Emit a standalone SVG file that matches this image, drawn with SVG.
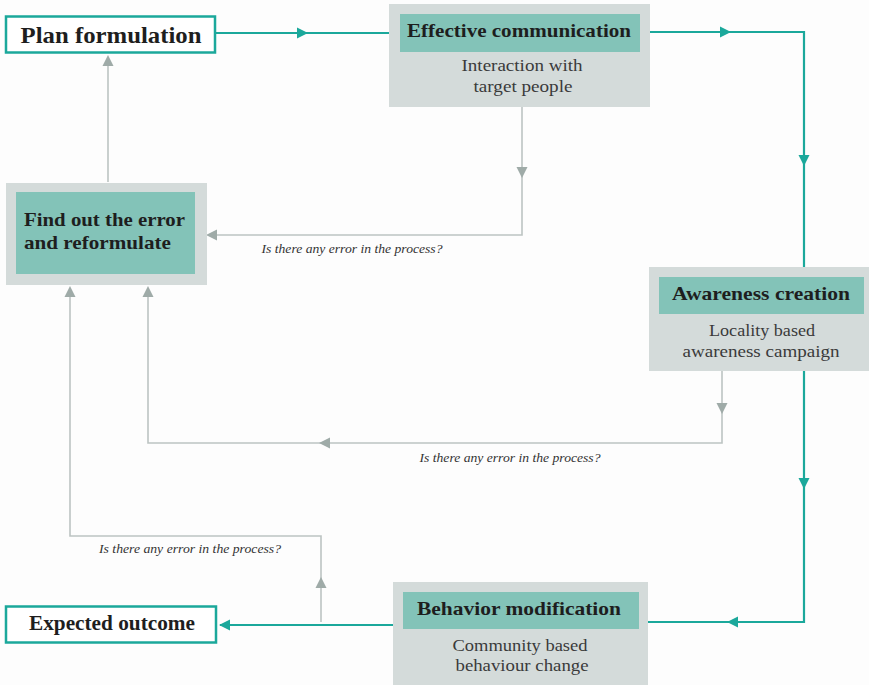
<svg xmlns="http://www.w3.org/2000/svg" width="869" height="685" viewBox="0 0 869 685">
<style>
.bg{fill:#fdfdfd}
.outer{fill:#d4dbda}
.inner{fill:#83c3b8}
.plain{fill:#ffffff;stroke:#1ba89b;stroke-width:2.5}
.t{font-family:"Liberation Serif","DejaVu Serif",serif;fill:#1e1e1e;text-anchor:middle}
.b{font-weight:bold}
.s{fill:#3a3a3a;font-size:16px}
.lbl{font-family:"Liberation Serif","DejaVu Serif",serif;font-style:italic;font-size:12.5px;fill:#333;text-anchor:middle}
.teal{fill:none;stroke:#1ba89b;stroke-width:2.2}
.gray{fill:none;stroke:#bcc4c2;stroke-width:1.6}
.ta{fill:#1ba89b}
.ga{fill:#9faba8}
</style>
<defs>
<path id="ah" d="M0,0 L-11,-5.5 L-11,5.5 Z"/>
</defs>
<rect class="bg" x="0" y="0" width="869" height="685"/>

<g id="connectors">
<path class="teal" d="M216,33 H390"/>
<path class="teal" d="M650,32 H804 V267"/>
<path class="teal" d="M804,371 V622 H648"/>
<path class="teal" d="M393,625 H220"/>
<use href="#ah" class="ta" transform="translate(308,33)"/>
<use href="#ah" class="ta" transform="translate(731,32)"/>
<use href="#ah" class="ta" transform="translate(804,166) rotate(90)"/>
<use href="#ah" class="ta" transform="translate(804,489) rotate(90)"/>
<use href="#ah" class="ta" transform="translate(727,622) rotate(180)"/>
<use href="#ah" class="ta" transform="translate(219,625) rotate(180)"/>

<path class="gray" d="M108,182 V60"/>
<path class="gray" d="M522,107 V235 H212"/>
<path class="gray" d="M722,371 V443 H148 V292"/>
<path class="gray" d="M321,622 V536 H70 V292"/>
<use href="#ah" class="ga" transform="translate(108,55) rotate(-90)"/>
<use href="#ah" class="ga" transform="translate(522,178) rotate(90)"/>
<use href="#ah" class="ga" transform="translate(206,235) rotate(180)"/>
<use href="#ah" class="ga" transform="translate(722,414) rotate(90)"/>
<use href="#ah" class="ga" transform="translate(319,443) rotate(180)"/>
<use href="#ah" class="ga" transform="translate(148,286) rotate(-90)"/>
<use href="#ah" class="ga" transform="translate(321,577) rotate(-90)"/>
<use href="#ah" class="ga" transform="translate(70,286) rotate(-90)"/>

<text class="lbl" x="352" y="253" textLength="181" lengthAdjust="spacingAndGlyphs">Is there any error in the process?</text>
<text class="lbl" x="510" y="462" textLength="181" lengthAdjust="spacingAndGlyphs">Is there any error in the process?</text>
<text class="lbl" x="190" y="553" textLength="182" lengthAdjust="spacingAndGlyphs">Is there any error in the process?</text>
</g>

<g id="plan-formulation">
<rect class="plain" x="6" y="16.5" width="209" height="36"/>
<text class="t b" x="111" y="43" font-size="23" textLength="181" lengthAdjust="spacingAndGlyphs">Plan formulation</text>
</g>

<g id="effective-communication">
<rect class="outer" x="389" y="4" width="261" height="103"/>
<rect class="inner" x="400" y="14" width="240" height="38"/>
<text class="t b" x="519" y="37" font-size="19" textLength="224" lengthAdjust="spacingAndGlyphs">Effective communication</text>
<text class="t s" x="522" y="71" textLength="121" lengthAdjust="spacingAndGlyphs">Interaction with</text>
<text class="t s" x="523" y="92" textLength="99" lengthAdjust="spacingAndGlyphs">target people</text>
</g>

<g id="find-error">
<rect class="outer" x="6" y="183" width="201" height="102"/>
<rect class="inner" x="16" y="192" width="179" height="82"/>
<text class="t b" x="24" y="226" font-size="19" text-anchor="start" style="text-anchor:start" textLength="161" lengthAdjust="spacingAndGlyphs">Find out the error</text>
<text class="t b" x="24" y="249" font-size="19" style="text-anchor:start" textLength="147" lengthAdjust="spacingAndGlyphs">and reformulate</text>
</g>

<g id="awareness-creation">
<rect class="outer" x="649" y="267" width="220" height="104"/>
<rect class="inner" x="659" y="277" width="205" height="37"/>
<text class="t b" x="761" y="300" font-size="19" textLength="178" lengthAdjust="spacingAndGlyphs">Awareness creation</text>
<text class="t s" x="762" y="336" textLength="106" lengthAdjust="spacingAndGlyphs">Locality based</text>
<text class="t s" x="761" y="357" textLength="157" lengthAdjust="spacingAndGlyphs">awareness campaign</text>
</g>

<g id="behavior-modification">
<rect class="outer" x="393" y="582" width="255" height="103"/>
<rect class="inner" x="403" y="592" width="236" height="37"/>
<text class="t b" x="519" y="615" font-size="19" textLength="204" lengthAdjust="spacingAndGlyphs">Behavior modification</text>
<text class="t s" x="520" y="651" textLength="135" lengthAdjust="spacingAndGlyphs">Community based</text>
<text class="t s" x="522" y="671" textLength="133" lengthAdjust="spacingAndGlyphs">behaviour change</text>
</g>

<g id="expected-outcome">
<rect class="plain" x="6" y="606.5" width="210" height="36"/>
<text class="t b" x="112" y="630" font-size="20.5" textLength="166" lengthAdjust="spacingAndGlyphs">Expected outcome</text>
</g>
</svg>
